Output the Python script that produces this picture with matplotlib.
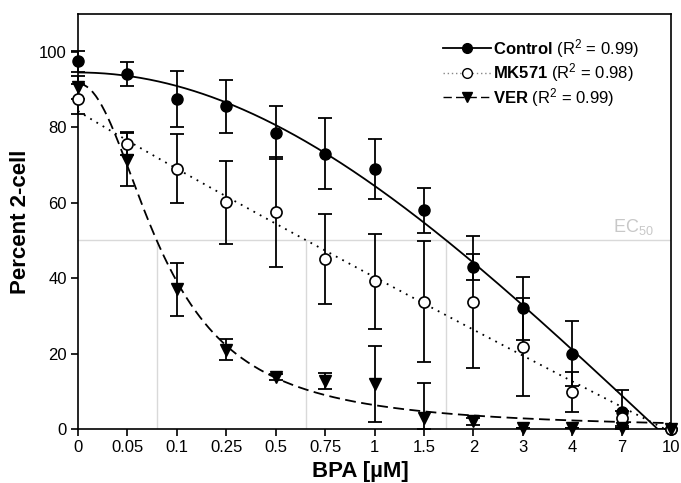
import numpy as np
import matplotlib
matplotlib.use("Agg")
import matplotlib.pyplot as plt
from matplotlib.lines import Line2D

plt.rcParams['font.family'] = ['Liberation Sans', 'DejaVu Sans']
plt.rcParams['mathtext.fontset'] = 'custom'
plt.rcParams['mathtext.rm'] = 'Liberation Sans'
plt.rcParams['mathtext.it'] = 'Liberation Sans:italic'
plt.rcParams['mathtext.bf'] = 'Liberation Sans:bold'

# ---- data ----
conc_labels = ['0', '0.05', '0.1', '0.25', '0.5', '0.75', '1', '1.5', '2', '3', '4', '7', '10']

control_mean = [97.5, 94.0, 87.5, 85.5, 78.5, 73.0, 69.0, 58.0, 43.0, 32.0, 20.0, 4.5, 0.0]
control_err = [2.8, 3.2, 7.5, 7.0, 7.0, 9.5, 8.0, 6.0, 3.5, 8.3, 8.5, 5.8, 0.0]

mk571_mean = [87.4, 75.6, 69.0, 60.1, 57.5, 45.1, 39.1, 33.7, 33.7, 21.7, 9.9, 2.9, 0.0]
mk571_err = [4.0, 3.0, 9.2, 11.0, 14.5, 12.0, 12.7, 16.0, 17.5, 13.0, 5.3, 2.0, 0.0]

ver_mean = [90.6, 71.4, 37.0, 21.0, 13.9, 12.7, 11.9, 3.0, 2.0, 0.3, 0.3, 0.3, 0.0]
ver_err = [3.0, 7.0, 7.0, 2.8, 0.8, 2.2, 10.0, 9.3, 1.0, 0.0, 0.0, 0.0, 0.0]

# fitted 4-parameter logistic curves (top, bottom, midpoint, hill) on category index
control_fit = (94.5, -300.0, 20.9, 2.0)
mk571_fit = (84.3, -3000.0, 472.0, 0.97)
ver_fit = (91.5, 0.0, 1.74, 2.1)

legend_labels = [r'$\mathbf{Control}$ (R$^2$ = 0.99)',
                 r'$\mathbf{MK571}$ (R$^2$ = 0.98)',
                 r'$\mathbf{VER}$ (R$^2$ = 0.99)']
ec_level = 50


def logistic(x, p):
    top, bottom, c, h = p
    return np.clip(bottom + (top - bottom) / (1.0 + (x / c) ** h), 0, None)


def ec_x(p, level):
    top, bottom, c, h = p
    return c * ((top - bottom) / (level - bottom) - 1.0) ** (1.0 / h)


fig = plt.figure(figsize=(6.81, 4.83), dpi=100)
ax = fig.add_axes([78 / 681, 1 - 429 / 483, 593 / 681, 415 / 483])

x = np.arange(len(conc_labels))
xs = np.linspace(0, len(conc_labels) - 1, 400)

# EC50 guide lines
gray = '#d9d9d9'
ax.axhline(ec_level, color=gray, lw=1.0, zorder=0.5)
for p in (control_fit, mk571_fit, ver_fit):
    xe = ec_x(p, ec_level)
    ax.plot([xe, xe], [0, ec_level], color=gray, lw=1.0, zorder=0.5)
ax.text(11.65, ec_level + 1.0, r'EC$_{50}$', color='#c8c8c8', fontsize=13,
        ha='right', va='bottom')

# fit curves
ax.plot(xs, logistic(xs, control_fit), color='k', lw=1.3, ls='-', zorder=2)
ax.plot(xs, logistic(xs, mk571_fit), color='k', lw=1.3, ls=(0, (1, 3)), zorder=2)
ax.plot(xs, logistic(xs, ver_fit), color='k', lw=1.3, ls=(0, (6, 3)), zorder=2)

# error bars (lower part stops at the x axis)
for m, e in ((control_mean, control_err), (mk571_mean, mk571_err), (ver_mean, ver_err)):
    m = np.asarray(m)
    e = np.asarray(e)
    yerr = np.vstack([np.minimum(e, m), e])
    ax.errorbar(x, m, yerr=yerr, fmt='none', ecolor='k', elinewidth=1.3,
                capsize=5, capthick=1.3, zorder=3, clip_on=False)

# markers
ax.plot(x, control_mean, ls='none', marker='o', ms=8, mfc='k', mec='k', zorder=4, clip_on=False)
ax.plot(x, mk571_mean, ls='none', marker='o', ms=8, mfc='white', mec='k', mew=1.2, zorder=4, clip_on=False)
ax.plot(x, ver_mean, ls='none', marker='v', ms=8, mfc='k', mec='k', zorder=4, clip_on=False)

ax.set_xlim(0, len(conc_labels) - 1)
ax.set_ylim(0, 110)
ax.set_xticks(x)
ax.set_xticklabels(conc_labels)
ax.set_yticks([0, 20, 40, 60, 80, 100])
ax.tick_params(axis='both', direction='out', length=5, width=1.2, labelsize=12, pad=3)
for s in ax.spines.values():
    s.set_linewidth(1.2)

ax.set_xlabel('BPA [\u00b5M]', fontsize=16, fontweight='bold')
ax.set_ylabel('Percent 2-cell', fontsize=16, fontweight='bold', labelpad=6)
ax.xaxis.set_label_coords(0.4755, -0.078)

handles = [Line2D([], [], color='k', lw=1.3, ls='-', marker='o', ms=7, mfc='k', mec='k'),
           Line2D([], [], color='#888888', lw=1.0, ls=(0, (1, 2)), marker='o', ms=7, mfc='white', mec='k'),
           Line2D([], [], color='k', lw=1.0, ls=(0, (6, 3)), marker='v', ms=7, mfc='k', mec='k')]
ax.legend(handles, legend_labels, loc='upper left', bbox_to_anchor=(0.6155, 0.945),
          frameon=False, fontsize=12, handlelength=2.9, handletextpad=0.1,
          labelspacing=0.1, borderpad=0, borderaxespad=0)

fig.savefig('out.png', dpi=100)
